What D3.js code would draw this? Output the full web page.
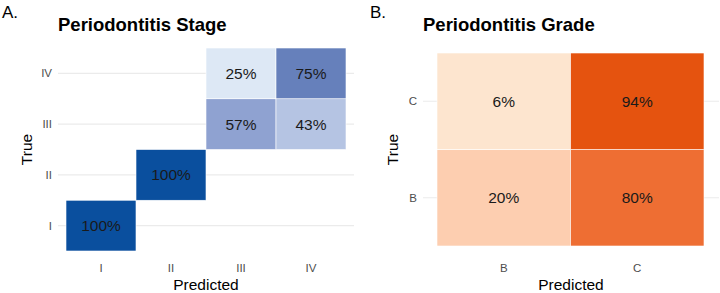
<!DOCTYPE html>
<html>
<head>
<meta charset="utf-8">
<script src="https://cdn.jsdelivr.net/npm/d3@7"></script>
<style>
  body { margin: 0; background: #fff; }
  svg { font-family: "Liberation Sans", Arial, sans-serif; }
</style>
</head>
<body>
<svg id="chart" width="720" height="293"></svg>
<script>
// stage confusion matrix
var stageLevels = ["I", "II", "III", "IV"];
var stageTrue = ["I", "II", "III", "III", "IV", "IV"];
var stagePred = ["I", "II", "III", "IV", "III", "IV"];
var stagePct = [1.00, 1.00, 0.57, 0.43, 0.25, 0.75];

// grade confusion matrix
var gradeLevels = ["B", "C"];
var gradeTrue = ["B", "B", "C", "C"];
var gradePred = ["B", "C", "B", "C"];
var gradePct = [0.20, 0.80, 0.06, 0.94];

var svg = d3.select("#chart");

function drawPanel(cfg) {
    var g = svg.append("g");

    var data = cfg.trueV.map(function(t, i) {
        return {t: t, p: cfg.pred[i], v: cfg.pct[i]};
    });

    var x = d3.scaleBand().domain(cfg.levels).range([cfg.left, cfg.right]);
    var y = d3.scaleBand().domain(cfg.levels).range([cfg.bottom, cfg.top]);
    var color = d3.scaleLinear().domain(cfg.colorDomain).range(cfg.colorRange);

    // horizontal grid lines
    g.selectAll(".grid")
        .data(cfg.levels)
        .enter()
        .append("line")
        .attr("x1", cfg.gridL)
        .attr("x2", cfg.gridR)
        .attr("y1", d => y(d) + y.bandwidth() / 2)
        .attr("y2", d => y(d) + y.bandwidth() / 2)
        .attr("stroke", "#ebebeb")
        .attr("stroke-width", 1.1);

    g.selectAll("rect")
        .data(data)
        .enter()
        .append("rect")
        .attr("x", d => x(d.p))
        .attr("y", d => y(d.t))
        .attr("width", x.bandwidth())
        .attr("height", y.bandwidth())
        .attr("fill", d => color(d.v))
        .attr("stroke", "#fff")
        .attr("stroke-width", 0.6);

    g.selectAll(".lab")
        .data(data)
        .enter()
        .append("text")
        .attr("x", d => x(d.p) + x.bandwidth() / 2)
        .attr("y", d => y(d.t) + y.bandwidth() / 2 + 5.5)
        .attr("text-anchor", "middle")
        .style("font-size", "15.5px")
        .style("fill", "#1a1a1a")
        .text(d => d3.format(".0%")(d.v));

    // axis tick labels
    g.selectAll(".ytick")
        .data(cfg.levels)
        .enter()
        .append("text")
        .attr("x", cfg.gridL - 6)
        .attr("y", d => y(d) + y.bandwidth() / 2 + 4)
        .attr("text-anchor", "end")
        .style("font-size", "11.5px")
        .style("fill", "#4d4d4d")
        .text(d => d);

    g.selectAll(".xtick")
        .data(cfg.levels)
        .enter()
        .append("text")
        .attr("x", d => x(d) + x.bandwidth() / 2)
        .attr("y", 272)
        .attr("text-anchor", "middle")
        .style("font-size", "11.5px")
        .style("fill", "#4d4d4d")
        .text(d => d);

    g.append("text")
        .attr("x", (cfg.gridL + cfg.gridR) / 2)
        .attr("y", 290)
        .attr("text-anchor", "middle")
        .style("font-size", "15.5px")
        .style("fill", "#000")
        .text("Predicted");

    g.append("text")
        .attr("transform", "translate(" + cfg.trueX + "," + ((cfg.top + cfg.bottom) / 2) + ") rotate(-90)")
        .attr("text-anchor", "middle")
        .style("font-size", "15.5px")
        .style("fill", "#000")
        .text("True");

    g.append("text")
        .attr("x", cfg.gridL)
        .attr("y", 31)
        .style("font-size", "18.5px")
        .style("font-weight", "bold")
        .style("fill", "#000")
        .text(cfg.title);

    g.append("text")
        .attr("x", cfg.tagX)
        .attr("y", 18)
        .style("font-size", "17px")
        .style("fill", "#000")
        .text(cfg.tag);
}

drawPanel({
    levels: stageLevels, trueV: stageTrue, pred: stagePred, pct: stagePct,
    left: 66, right: 346, top: 48, bottom: 251,
    gridL: 58, gridR: 354, trueX: 32, tagX: 2,
    title: "Periodontitis Stage", tag: "A.",
    colorDomain: [0.25, 0.43, 0.57, 0.75, 1],
    colorRange: ["#dde8f5", "#b5c4e3", "#8fa2d1", "#6680bb", "#0a4f9e"]
});

drawPanel({
    levels: gradeLevels, trueV: gradeTrue, pred: gradePred, pct: gradePct,
    left: 437, right: 704, top: 53, bottom: 246,
    gridL: 423, gridR: 719, trueX: 398, tagX: 370,
    title: "Periodontitis Grade", tag: "B.",
    colorDomain: [0.06, 0.20, 0.80, 0.94],
    colorRange: ["#fde5cf", "#fdceb0", "#ee6e33", "#e5530f"]
});
</script>
</body>
</html>
